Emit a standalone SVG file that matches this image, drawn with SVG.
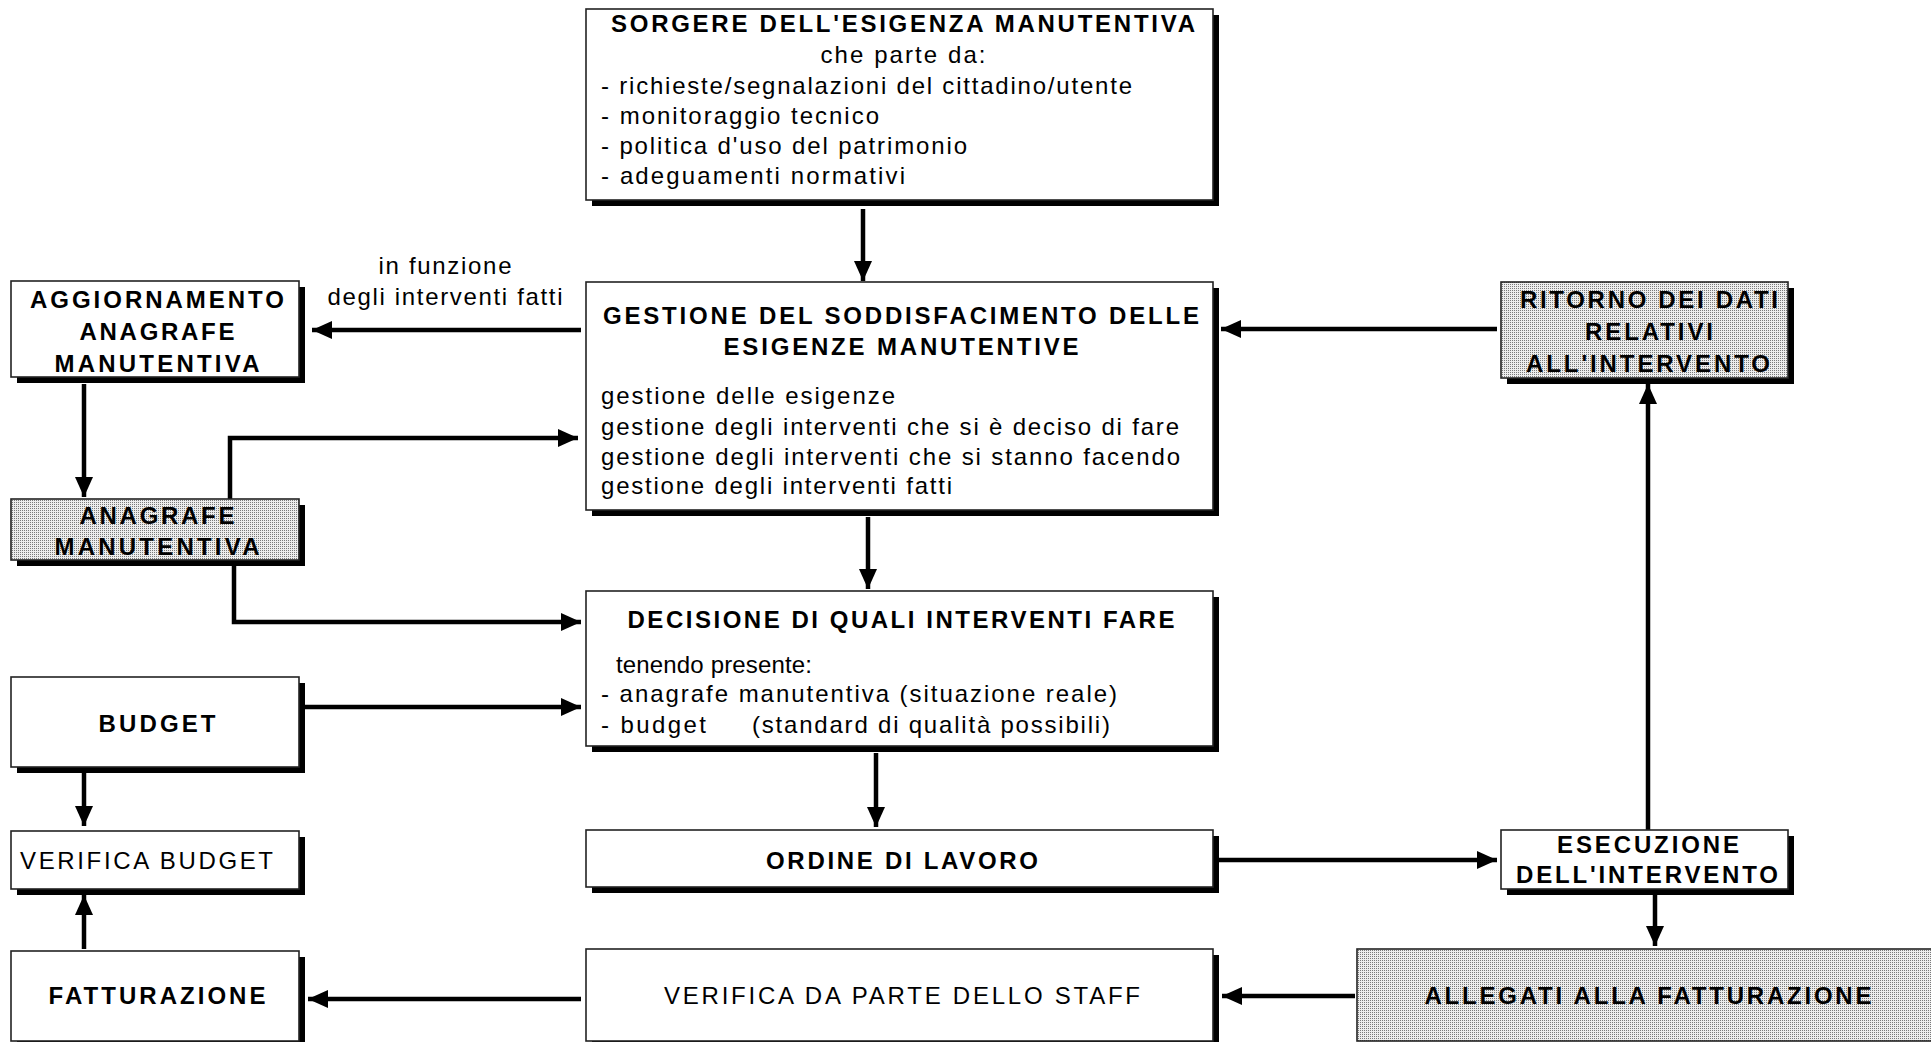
<svg xmlns="http://www.w3.org/2000/svg" width="1931" height="1042" viewBox="0 0 1931 1042">
<defs>
<pattern id="dots" width="2" height="2" patternUnits="userSpaceOnUse">
<rect width="2" height="2" fill="#ededed"/>
<rect width="1" height="1" fill="#7a7a7a"/>
</pattern>
<marker id="ah" markerUnits="userSpaceOnUse" markerWidth="20" markerHeight="18" refX="20" refY="9" orient="auto">
<path d="M0,0 L20,9 L0,18 z" fill="#000"/>
</marker>
<style>
.box{fill:#fff;stroke:#222;stroke-width:1.6}
.gray{fill:url(#dots);stroke:#222;stroke-width:1.6}
.sh{fill:#000}
.t{font-family:"Liberation Sans",Arial,sans-serif;font-size:24px;fill:#000}
.b{font-weight:bold}
.m{text-anchor:middle}
.c{fill:none;stroke:#000;stroke-width:4.5;marker-end:url(#ah)}
</style>
</defs>
<rect width="1931" height="1042" fill="#fff"/>

<g id="connectors">
<path class="c" d="M863,209 V281"/>
<path class="c" d="M581,330 H312"/>
<path class="c" d="M1497,329 H1221"/>
<path class="c" d="M84,384 V497"/>
<path class="c" d="M230,499 V438 H578"/>
<path class="c" d="M234,566 V622 H581"/>
<path class="c" d="M868,517 V589"/>
<path class="c" d="M305,707 H581"/>
<path class="c" d="M84,773 V826"/>
<path class="c" d="M84,949 V895"/>
<path class="c" d="M876,753 V827"/>
<path class="c" d="M1219,860 H1497"/>
<path class="c" d="M1648,830 V384"/>
<path class="c" d="M1655,895 V946"/>
<path class="c" d="M1355,996 H1222"/>
<path class="c" d="M581,999 H308"/>
<text class="t m" x="445" y="274" textLength="133" lengthAdjust="spacing">in funzione</text>
<text class="t m" x="445" y="305" textLength="235" lengthAdjust="spacing">degli interventi fatti</text>
</g>

<g id="sorgere">
<rect class="sh" x="592" y="15" width="627" height="191"/>
<rect class="box" x="586" y="9" width="627" height="191"/>
<text class="t b m" x="903" y="32" textLength="584" lengthAdjust="spacing">SORGERE DELL'ESIGENZA MANUTENTIVA</text>
<text class="t m" x="903" y="63" textLength="165" lengthAdjust="spacing">che parte da:</text>
<text class="t" x="601" y="94" textLength="531" lengthAdjust="spacing">- richieste/segnalazioni del cittadino/utente</text>
<text class="t" x="601" y="124" textLength="278" lengthAdjust="spacing">- monitoraggio tecnico</text>
<text class="t" x="601" y="154" textLength="366" lengthAdjust="spacing">- politica d'uso del patrimonio</text>
<text class="t" x="601" y="184" textLength="304" lengthAdjust="spacing">- adeguamenti normativi</text>
</g>

<g id="gestione">
<rect class="sh" x="592" y="288" width="627" height="228"/>
<rect class="box" x="586" y="282" width="627" height="228"/>
<text class="t b m" x="901" y="324" textLength="596" lengthAdjust="spacing">GESTIONE DEL SODDISFACIMENTO DELLE</text>
<text class="t b m" x="901" y="355" textLength="355" lengthAdjust="spacing">ESIGENZE MANUTENTIVE</text>
<text class="t" x="601" y="404" textLength="294" lengthAdjust="spacing">gestione delle esigenze</text>
<text class="t" x="601" y="435" textLength="578" lengthAdjust="spacing">gestione degli interventi che si è deciso di fare</text>
<text class="t" x="601" y="465" textLength="579" lengthAdjust="spacing">gestione degli interventi che si stanno facendo</text>
<text class="t" x="601" y="494" textLength="351" lengthAdjust="spacing">gestione degli interventi fatti</text>
</g>

<g id="aggiornamento">
<rect class="sh" x="17" y="287" width="288" height="96"/>
<rect class="box" x="11" y="281" width="288" height="96"/>
<text class="t b m" x="157" y="308" textLength="254" lengthAdjust="spacing">AGGIORNAMENTO</text>
<text class="t b m" x="157" y="340" textLength="155" lengthAdjust="spacing">ANAGRAFE</text>
<text class="t b m" x="157" y="372" textLength="205" lengthAdjust="spacing">MANUTENTIVA</text>
</g>

<g id="ritorno">
<rect class="sh" x="1507" y="288" width="287" height="96"/>
<rect class="gray" x="1501" y="282" width="287" height="96"/>
<text class="t b m" x="1649" y="308" textLength="258" lengthAdjust="spacing">RITORNO DEI DATI</text>
<text class="t b m" x="1649" y="340" textLength="128" lengthAdjust="spacing">RELATIVI</text>
<text class="t b m" x="1648" y="372" textLength="244" lengthAdjust="spacing">ALL'INTERVENTO</text>
</g>

<g id="anagrafe">
<rect class="sh" x="17" y="505" width="288" height="61"/>
<rect class="gray" x="11" y="499" width="288" height="61"/>
<text class="t b m" x="157" y="524" textLength="155" lengthAdjust="spacing">ANAGRAFE</text>
<text class="t b m" x="157" y="555" textLength="205" lengthAdjust="spacing">MANUTENTIVA</text>
</g>

<g id="decisione">
<rect class="sh" x="592" y="597" width="627" height="155"/>
<rect class="box" x="586" y="591" width="627" height="155"/>
<text class="t b m" x="901" y="628" textLength="547" lengthAdjust="spacing">DECISIONE DI QUALI INTERVENTI FARE</text>
<text class="t" x="616" y="673" textLength="196" lengthAdjust="spacing">tenendo presente:</text>
<text class="t" x="601" y="702" textLength="516" lengthAdjust="spacing">- anagrafe manutentiva (situazione reale)</text>
<text class="t" x="601" y="733" textLength="105" lengthAdjust="spacing">- budget</text>
<text class="t" x="752" y="733" textLength="358" lengthAdjust="spacing">(standard di qualità possibili)</text>
</g>

<g id="budget">
<rect class="sh" x="17" y="683" width="288" height="90"/>
<rect class="box" x="11" y="677" width="288" height="90"/>
<text class="t b m" x="157" y="732" textLength="117" lengthAdjust="spacing">BUDGET</text>
</g>

<g id="verifica-budget">
<rect class="sh" x="17" y="837" width="288" height="58"/>
<rect class="box" x="11" y="831" width="288" height="58"/>
<text class="t" x="20" y="869" textLength="253" lengthAdjust="spacing">VERIFICA BUDGET</text>
</g>

<g id="fatturazione">
<rect class="sh" x="17" y="957" width="288" height="90"/>
<rect class="box" x="11" y="951" width="288" height="90"/>
<text class="t b m" x="157" y="1004" textLength="217" lengthAdjust="spacing">FATTURAZIONE</text>
</g>

<g id="ordine">
<rect class="sh" x="592" y="836" width="627" height="57"/>
<rect class="box" x="586" y="830" width="627" height="57"/>
<text class="t b m" x="902" y="869" textLength="272" lengthAdjust="spacing">ORDINE DI LAVORO</text>
</g>

<g id="esecuzione">
<rect class="sh" x="1507" y="836" width="287" height="59"/>
<rect class="box" x="1501" y="830" width="287" height="59"/>
<text class="t b m" x="1648" y="853" textLength="182" lengthAdjust="spacing">ESECUZIONE</text>
<text class="t b m" x="1647" y="883" textLength="262" lengthAdjust="spacing">DELL'INTERVENTO</text>
</g>

<g id="staff">
<rect class="sh" x="592" y="955" width="627" height="92"/>
<rect class="box" x="586" y="949" width="627" height="92"/>
<text class="t m" x="902" y="1004" textLength="476" lengthAdjust="spacing">VERIFICA DA PARTE DELLO STAFF</text>
</g>

<g id="allegati">
<rect class="gray" x="1357" y="949" width="580" height="92"/>
<text class="t b m" x="1648" y="1004" textLength="447" lengthAdjust="spacing">ALLEGATI ALLA FATTURAZIONE</text>
</g>
</svg>
